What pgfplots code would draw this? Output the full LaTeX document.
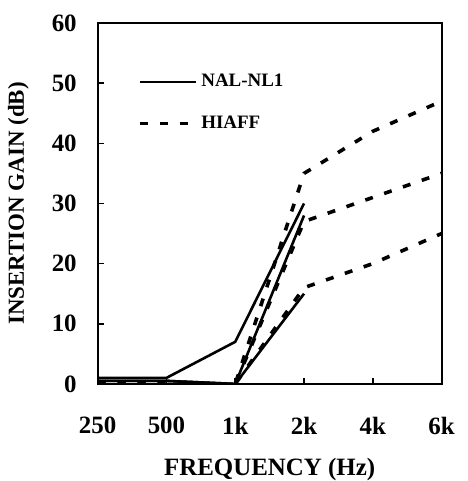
\documentclass[border=0pt]{standalone}
\usepackage{fontspec}
\setmainfont{Liberation Serif}
\usepackage{pgfplots}
\pgfplotsset{compat=1.18}
\begin{document}
\begin{tikzpicture}
\begin{axis}[
  scale only axis,
  width=172.5pt, height=181pt,
  xmin=0, xmax=5, ymin=0, ymax=60,
  xtick={0,1,2,3,4,5},
  xticklabels={250,500,1k,2k,4k,6k},
  ytick={0,10,20,30,40,50,60},
  tick align=inside,
  xtick pos=bottom, ytick pos=left,
  major tick length=3pt,
  axis line style={line width=1pt},
  tick style={line width=0.8pt, black},
  /pgf/number format/assume math mode=true,
  tick label style={font=\fontsize{12.5}{14}\selectfont\bfseries},
  xticklabel style={yshift=-13pt},
  yticklabel style={xshift=-7pt},
  xlabel style={font=\fontsize{12.5}{14}\selectfont\bfseries, inner sep=0pt, yshift=-8.5pt},
  ylabel style={font=\fontsize{11.5}{14}\selectfont\bfseries, inner sep=0pt, yshift=8pt},
  xlabel={FREQUENCY (Hz)},
  ylabel={INSERTION GAIN (dB)},
  legend style={draw=none, fill=none, at={(axis cs:0.58,52.2)}, anchor=north west,
    font=\fontsize{9.5}{11}\selectfont\bfseries, row sep=9pt,
    inner sep=0pt, cells={anchor=west}},
  legend image code/.code={\draw[#1] (0pt,0pt) -- (28pt,0pt);},
]
% NAL-NL1 prescriptions
\addplot[black, line width=1.3pt] coordinates {(0,1) (1,1) (2,7) (3,30)};
\addlegendentry{NAL-NL1}
% HIAFF prescriptions
\addplot[black, line width=1.8pt, dash pattern=on 4pt off 6pt] coordinates {(0,0) (1,0) (2,0) (3,35) (4,42) (5,47)};
\addlegendentry{HIAFF}
\addplot[black, line width=1.3pt, forget plot] coordinates {(0,0.5) (1,0.5) (2,0) (3,28)};
\addplot[black, line width=1.3pt, forget plot] coordinates {(0,0.5) (1,0.5) (2,0) (3,15)};
\addplot[black, line width=1.8pt, dash pattern=on 4pt off 6pt, forget plot] coordinates {(0,0) (1,0) (2,0) (3,27) (4,31) (5,35)};
\addplot[black, line width=1.8pt, dash pattern=on 4pt off 6pt, forget plot] coordinates {(0,0) (1,0) (2,0) (3,16) (4,20) (5,25)};
\end{axis}
\path ([yshift=4pt]current bounding box.north);
\path ([xshift=3pt]current bounding box.east);
\path ([xshift=-4pt]current bounding box.west);
\end{tikzpicture}
\end{document}
